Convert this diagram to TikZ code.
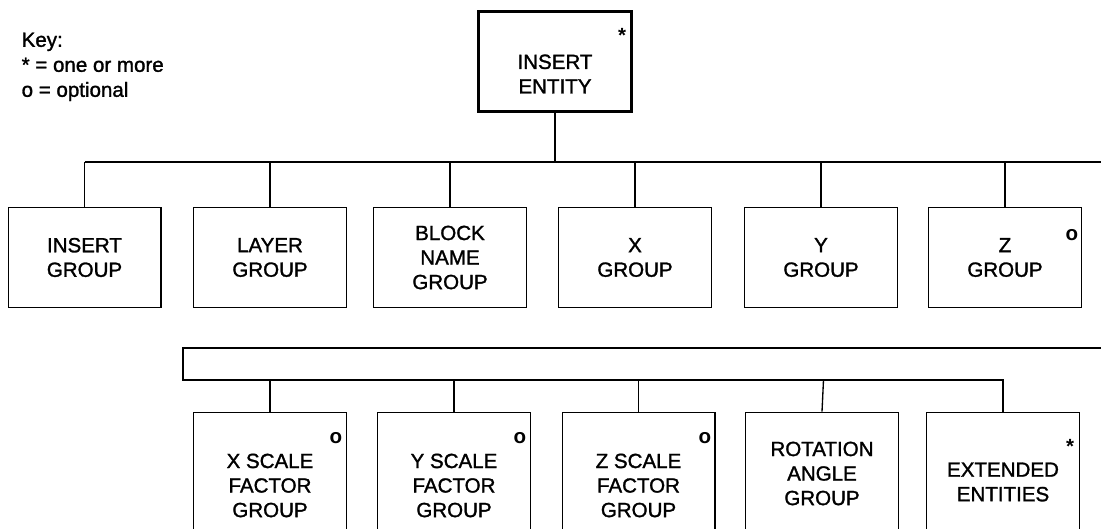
\documentclass[tikz,border=0pt]{standalone}
\usepackage{fontspec}
\setmainfont{Liberation Sans}
% heavier strokes for the printed labels
\newfontfamily\labelfont{Liberation Sans}[FakeBold=1.4]
\begin{document}
\begin{tikzpicture}[x=0.75pt,y=-0.75pt,
  line width=1pt,
  txtfont/.style={font=\labelfont\fontsize{15.4}{18.4}\selectfont},
  box/.style={draw,line width=1pt,minimum width=114.5pt,minimum height=74.8pt,
    inner sep=0pt,align=center,txtfont},
  tallbox/.style={box,minimum height=150pt,anchor=north},
  rootbox/.style={draw,line width=2.4pt,minimum width=114.8pt,minimum height=75pt,inner sep=0pt},
  caption/.style={align=center,inner sep=0pt,txtfont},
  flag/.style={inner sep=0pt,font=\fontsize{15.4}{18.4}\selectfont\bfseries},
  keytext/.style={align=left,inner sep=0pt,anchor=north west,font=\labelfont\fontsize{15.4}{18.75}\selectfont}]

\clip (0,0) rectangle (1101,529);

% legend
\node[keytext] (key) at (21,32) {Key:\\* = one or more\\o = optional};

% root entity
\node[rootbox] (root) at (555,61.5) {};
\node[caption] (rootT) at (555,74) {INSERT\\ENTITY};
\node[flag,anchor=north] (rootF) at (622,28) {*};

% first level groups
\node[box] (ins) at (84.5,257.5) {INSERT\\GROUP};
\node[box] (lay) at (270,257.5) {LAYER\\GROUP};
\node[box] (blk) at (450,257.5) {BLOCK\\NAME\\GROUP};
\node[box] (xg)  at (635,257.5) {X\\GROUP};
\node[box] (yg)  at (821,257.5) {Y\\GROUP};
\node[box] (zg)  at (1005,257.5) {Z\\GROUP};
\node[flag] (zgF) at (1072,235) {o};

% second level groups (continued below the page edge)
\node[tallbox] (xs)  at (270,411.7) {};
\node[tallbox] (ys)  at (454,411.7) {};
\node[tallbox] (zs)  at (638.5,411.7) {};
\node[tallbox] (rot) at (822,411.7) {};
\node[tallbox] (ext) at (1003,411.7) {};
\node[caption] (xsT)  at (270,485.5) {X SCALE\\FACTOR\\GROUP};
\node[caption] (ysT)  at (454,485.5) {Y SCALE\\FACTOR\\GROUP};
\node[caption] (zsT)  at (638.5,485.5) {Z SCALE\\FACTOR\\GROUP};
\node[caption] (rotT) at (822,473.5) {ROTATION\\ANGLE\\GROUP};
\node[caption] (extT) at (1003,482) {EXTENDED\\ENTITIES};
\node[flag] (xsF) at (336,438) {o};
\node[flag] (ysF) at (520,438) {o};
\node[flag] (zsF) at (705,438) {o};
\node[flag,anchor=north] (extF) at (1070,439) {*};

% first bus
\coordinate (busL) at (84.5,162);
\coordinate (busR) at (1110,162);
\draw (busL) -- (busR);
\draw (root.south) -- (root.south |- busL);
\foreach \n in {ins,lay,blk,xg,yg,zg}
  \draw (\n.north |- busL) -- (\n.north);

% second bus
\coordinate (lowR)  at (1110,348);
\coordinate (lowTL) at (183,348);
\coordinate (lowBL) at (183,380);
\draw (lowR) -- (lowTL) -- (lowBL) -- (ext.north |- lowBL) -- (ext.north);
\foreach \n in {xs,ys,zs}
  \draw (\n.north |- lowBL) -- (\n.north);
\coordinate (rotJ) at (823.5,380);
\draw (rotJ) -- (rot.north);
\end{tikzpicture}
\end{document}
